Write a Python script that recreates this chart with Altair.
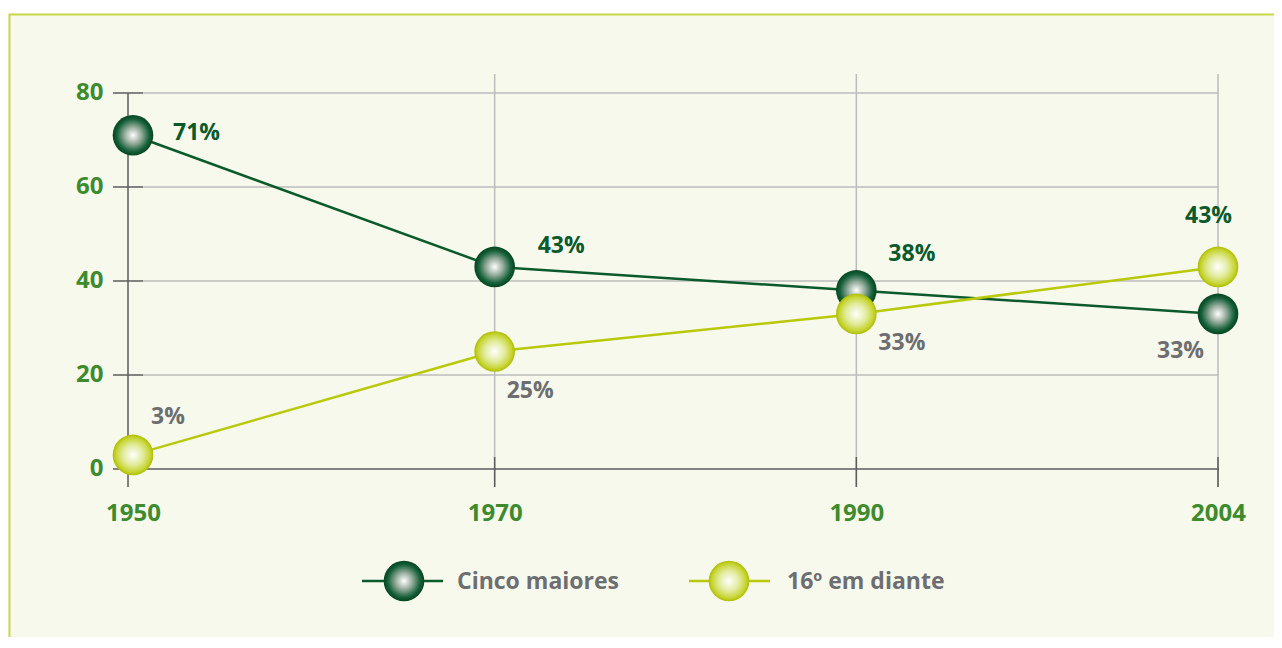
import altair as alt
import pandas as pd

# ---- data ----
years = [1950, 1970, 1990, 2004]
cinco_maiores = [71, 43, 38, 33]
dezesseis_em_diante = [3, 25, 33, 43]
series_names = ["Cinco maiores", "16º em diante"]
y_tick_values = [0, 20, 40, 60, 80]

# ---- styles ----
FONT = "Open Sans, sans-serif"
GREEN_AXIS = "#3d8b2c"
DARK = "#0a5a2c"
LIGHT = "#b8c90a"
GRAY_TXT = "#6d6e71"
GRID = "#bcbcbc"
AXIS_DARK = "#5c5c5c"
BG = "#f7f9ec"
BORDER = "#c8d848"
MSIZE = 1650

W, H = 1095, 413

dark_grad = alt.RadialGradient(
    gradient="radial", x1=0.5, y1=0.5, r1=0, x2=0.5, y2=0.5, r2=0.5,
    stops=[alt.GradientStop(offset=0, color="#ffffff"),
           alt.GradientStop(offset=0.4, color="#9aaf9f"),
           alt.GradientStop(offset=0.8, color="#15603a"),
           alt.GradientStop(offset=1, color="#05451f")])
light_grad = alt.RadialGradient(
    gradient="radial", x1=0.5, y1=0.5, r1=0, x2=0.5, y2=0.5, r2=0.5,
    stops=[alt.GradientStop(offset=0, color="#ffffff"),
           alt.GradientStop(offset=0.5, color="#e2eb9c"),
           alt.GradientStop(offset=0.85, color="#c6d430"),
           alt.GradientStop(offset=1, color="#aebd00")])

xscale = alt.Scale(type="point", padding=0.0138)
yscale = alt.Scale(domain=[-3.83, 84.04], nice=False, zero=False)

x_enc = alt.X("year:O", scale=xscale, sort=years,
              axis=alt.Axis(title=None, domain=False, ticks=False, grid=False,
                            labelAngle=0, labelPadding=14, labelFont=FONT,
                            labelFontSize=24, labelFontWeight="bold",
                            labelColor=GREEN_AXIS))
y_enc = alt.Y("value:Q", scale=yscale,
              axis=alt.Axis(title=None, values=y_tick_values, domain=False,
                            ticks=False, grid=False, labelPadding=25,
                            labelFont=FONT, labelFontSize=24,
                            labelFontWeight="bold", labelColor=GREEN_AXIS))

df = pd.DataFrame({
    "year": years * 2,
    "value": cinco_maiores + dezesseis_em_diante,
    "series": [series_names[0]] * len(years) + [series_names[1]] * len(years),
})
df_c = df[df.series == series_names[0]]
df_d = df[df.series == series_names[1]]

layers = []

# frame of the panel
layers.append(alt.Chart(pd.DataFrame({"a": [0]})).mark_rect(fill="white").encode(
    x=alt.value(-130), x2=alt.value(W + 60), y=alt.value(-70), y2=alt.value(-60.5)))
layers.append(alt.Chart(pd.DataFrame({"a": [0]})).mark_rect(
    fillOpacity=0, stroke=BORDER, strokeWidth=2).encode(
    x=alt.value(-118.5), x2=alt.value(W + 200), y=alt.value(-59.5), y2=alt.value(H + 300)))

# grid
grid_y = pd.DataFrame({"value": y_tick_values[1:]})
layers.append(alt.Chart(grid_y).mark_rule(color=GRID, strokeWidth=1.5).encode(
    y=y_enc, x=alt.value(15), x2=alt.value(1091)))
grid_x = pd.DataFrame({"year": years[1:]})
layers.append(alt.Chart(grid_x).mark_rule(color=GRID, strokeWidth=1.5).encode(
    x=x_enc, y=alt.value(0), y2=alt.value(H)))
# ticks and axis lines
layers.append(alt.Chart(grid_x).mark_rule(color=AXIS_DARK, strokeWidth=1.5).encode(
    x=x_enc, y=alt.value(H - 30), y2=alt.value(H)))
layers.append(alt.Chart(pd.DataFrame({"value": y_tick_values})).mark_rule(
    color=AXIS_DARK, strokeWidth=1.5).encode(
    y=y_enc, x=alt.value(-15), x2=alt.value(15)))
layers.append(alt.Chart(pd.DataFrame({"value": [0]})).mark_rule(
    color=AXIS_DARK, strokeWidth=1.5).encode(
    y=y_enc, x=alt.value(0), x2=alt.value(1091)))
layers.append(alt.Chart(pd.DataFrame({"value": [80]})).mark_rule(
    color=AXIS_DARK, strokeWidth=1.5).encode(
    y=y_enc, x=alt.value(0), y2=alt.value(H)))

# lines
layers.append(alt.Chart(df_c).mark_line(color=DARK, strokeWidth=2.5).encode(x=x_enc, y=y_enc))
layers.append(alt.Chart(df_d).mark_line(color=LIGHT, strokeWidth=2.5).encode(x=x_enc, y=y_enc))

# markers
layers.append(alt.Chart(df_c).mark_circle(size=MSIZE, fill=dark_grad, opacity=1).encode(x=x_enc, y=y_enc))
layers.append(alt.Chart(df_d).mark_circle(size=MSIZE, fill=light_grad, opacity=1).encode(x=x_enc, y=y_enc))

# value labels (offsets are styling)
offs_c = [(40, -2), (43, -21), (32, -36), (-61, 37)]
offs_d = [(18, -38), (12, 40), (22, 29), (-33, -51)]
for i, yr in enumerate(years):
    for vals, offs, other in ((cinco_maiores, offs_c, dezesseis_em_diante),
                              (dezesseis_em_diante, offs_d, cinco_maiores)):
        v = vals[i]
        top = v > other[i]
        d = pd.DataFrame({"year": [yr], "value": [v], "label": [f"{v}%"]})
        layers.append(alt.Chart(d).mark_text(
            align="left", baseline="middle", dx=offs[i][0], dy=offs[i][1],
            font=FONT, fontSize=23, fontWeight="bold",
            color=DARK if top else GRAY_TXT).encode(x=x_enc, y=y_enc, text="label:N"))

# legend
leg = [(series_names[0], DARK, dark_grad, 234, 315, 276, 329),
       (series_names[1], LIGHT, light_grad, 561, 642, 601, 659)]
for name, col, grad, lx1, lx2, mx, tx in leg:
    one = pd.DataFrame({"a": [0]})
    layers.append(alt.Chart(one).mark_rule(color=col, strokeWidth=2.5).encode(
        x=alt.value(lx1), x2=alt.value(lx2), y=alt.value(507)))
    layers.append(alt.Chart(one).mark_circle(size=MSIZE, fill=grad, opacity=1).encode(
        x=alt.value(mx), y=alt.value(507)))
    layers.append(alt.Chart(one).mark_text(
        text=name, align="left", baseline="middle", font=FONT, fontSize=23,
        fontWeight="bold", color=GRAY_TXT).encode(x=alt.value(tx), y=alt.value(508)))

chart = alt.layer(*layers).properties(
    width=W, height=H, background=BG,
    autosize=alt.AutoSizeParams(type="none"),
    padding={"left": 120, "top": 66, "right": 51, "bottom": 150},
).configure_view(stroke=None)

chart.save("out.html", embed_options={"renderer": "svg", "actions": False})
